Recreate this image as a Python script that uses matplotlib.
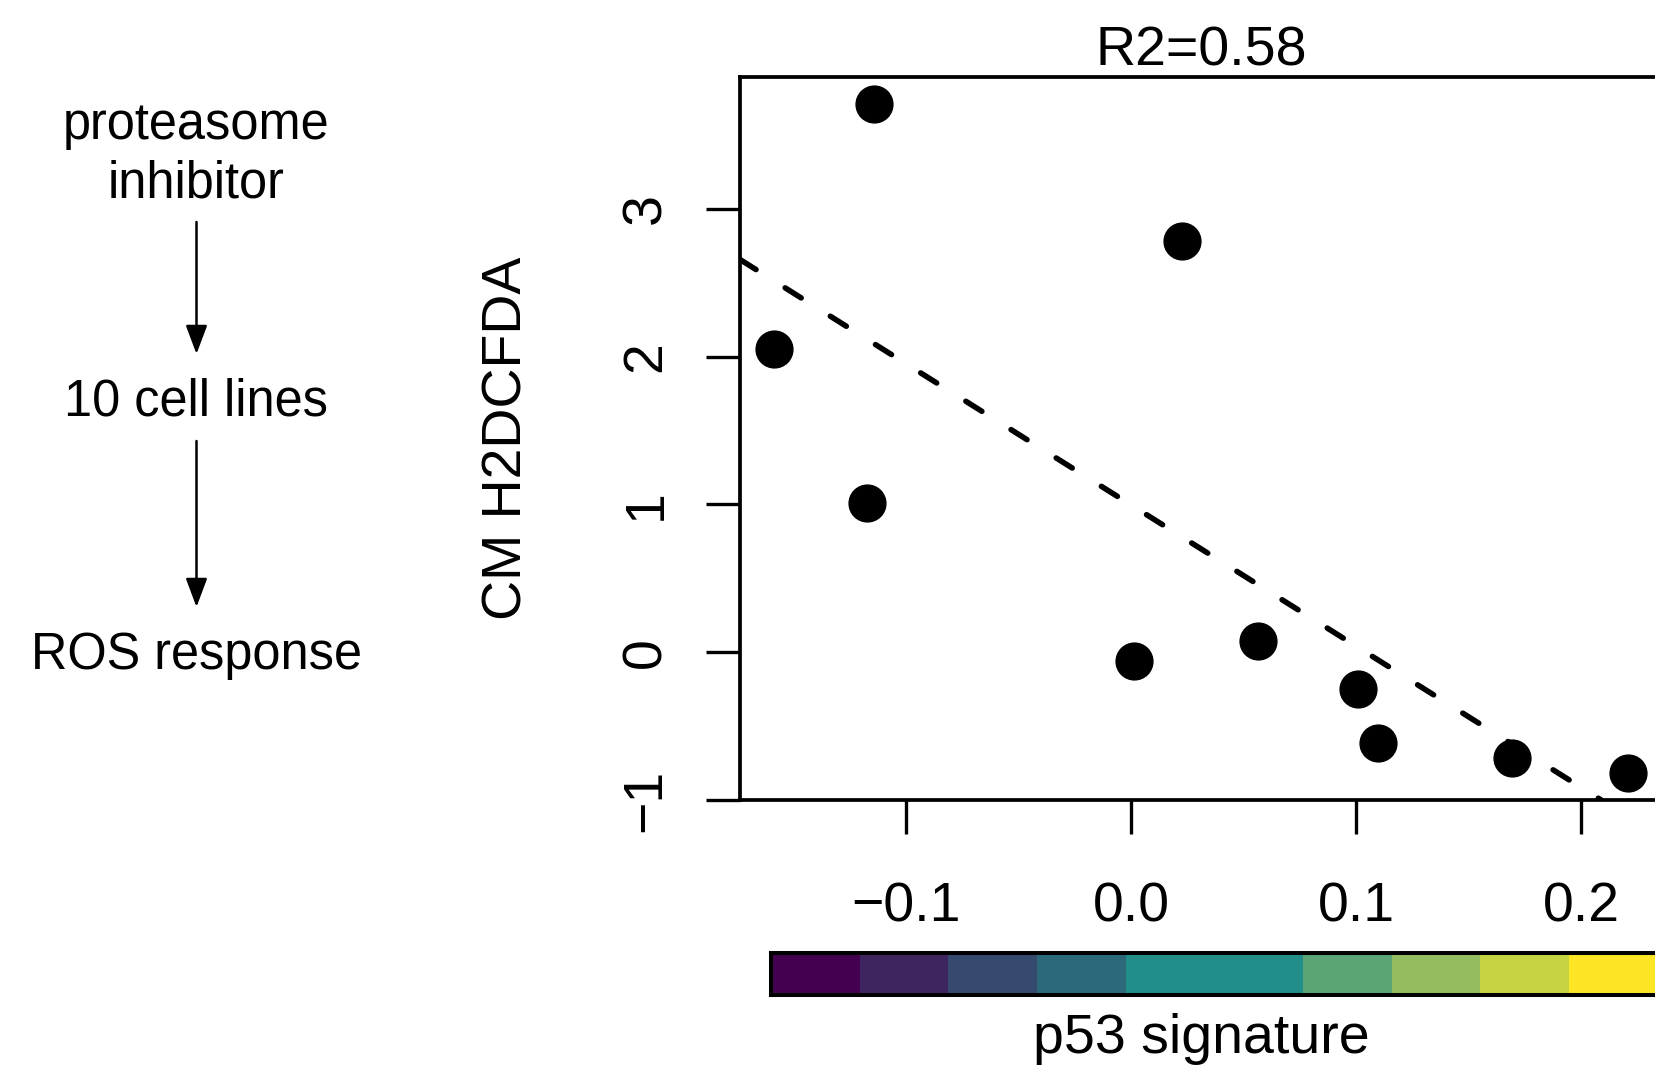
import numpy as np
import matplotlib
matplotlib.use('Agg')
import matplotlib.pyplot as plt
from matplotlib.colors import ListedColormap

plt.rcParams['font.family'] = ['Liberation Sans', 'DejaVu Sans']

# p53 signature score vs ROS (CM H2DCFDA) for the 10 cell lines
p53_score = [-0.1146, -0.1588, -0.1174, 0.0226, 0.0010, 0.0564, 0.1010, 0.1095, 0.1692, 0.2208]
ros_level = [3.71, 2.05, 1.01, 2.785, -0.057, 0.079, -0.247, -0.612, -0.717, -0.817]

x_ticks = [-0.1, 0.0, 0.1, 0.2]
x_tick_labels = ['\u22120.1', '0.0', '0.1', '0.2']
y_ticks = [-1, 0, 1, 2, 3]
y_tick_labels = ['\u22121', '0', '1', '2', '3']

# colour key under the scatter
key_colors = ['#440050', '#3e2560', '#354a6e', '#2c6a7b', '#228e8a',
              '#228e8a', '#5aa573', '#92bc5d', '#c6d343', '#fce525']

flow_lines = ['proteasome', 'inhibitor', '10 cell lines', 'ROS response']

W, H = 1655, 1071
FS = 40


def fx(px):
    return px / W


def fy(py):
    return 1 - py / H


fig = plt.figure(figsize=(W / 100, H / 100), dpi=100)

# --- scatter panel ---
ax = fig.add_axes([fx(740), fy(800), (1662 - 740) / W, (800 - 77) / H])
ax.plot(p53_score, ros_level, 'o', color='black', ms=26.5)

# R-style 4% padding around the data
xs = np.array(p53_score)
ys = np.array(ros_level)
xr = xs.max() - xs.min()
yr = ys.max() - ys.min()
ax.set_xlim(xs.min() - 0.04 * xr, xs.max() + 0.04 * xr)
ax.set_ylim(ys.min() - 0.04 * yr, ys.max() + 0.04 * yr)

slope, icept = np.polyfit(xs, ys, 1)
ax.axline((0, icept), slope=slope, color='black', lw=4.0,
          linestyle=(0, (3.4, 6.2)), dash_capstyle='round')

ax.set_xticks(x_ticks, x_tick_labels)
ax.set_yticks(y_ticks, y_tick_labels, rotation=90, va='center')
for s in ax.spines.values():
    s.set_linewidth(2.7)
ax.tick_params(length=24.5, width=2.4, labelsize=FS)
ax.tick_params(axis='x', pad=34)
ax.tick_params(axis='y', pad=24)

ax.set_title('R2=0.58', fontsize=FS, pad=7.2)
fig.text(fx(507), fy(438), 'CM H2DCFDA', rotation=90, ha='center', va='center', fontsize=FS)

# --- colour key ---
cax = fig.add_axes([fx(771), fy(995), (1658 - 771) / W, (995 - 953) / H])
cax.imshow(np.arange(len(key_colors))[None, :], cmap=ListedColormap(key_colors), aspect='auto')
cax.set_xticks([])
cax.set_yticks([])
for s in cax.spines.values():
    s.set_linewidth(2.9)
fig.text(fx(1201), fy(1053), 'p53 signature', ha='center', va='baseline', fontsize=FS)

# --- workflow on the left ---
line_y = [139, 197, 415, 669]
for txt, yy in zip(flow_lines, line_y):
    fig.text(fx(196.5), fy(yy), txt, ha='center', va='baseline', fontsize=36.4)

for y0, y1 in [(222, 354), (441, 607)]:
    fig.add_artist(matplotlib.patches.FancyArrowPatch(
        (fx(196.5), fy(y0)), (fx(196.5), fy(y1)), transform=fig.transFigure,
        arrowstyle='-|>,head_length=0.8,head_width=0.3', mutation_scale=22,
        lw=1.8, color='black', shrinkA=0, shrinkB=0))

fig.savefig('out.png', dpi=100)
